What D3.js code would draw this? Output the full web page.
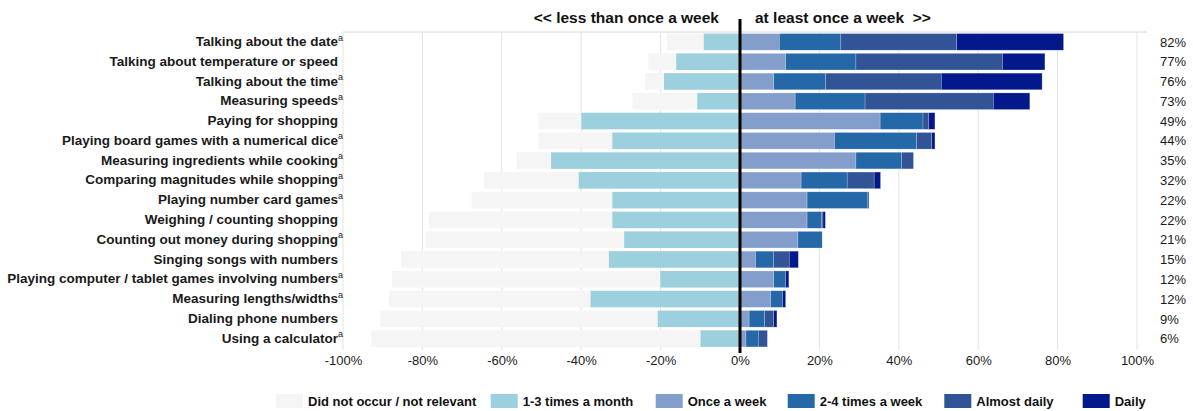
<!DOCTYPE html>
<html>
<head>
<meta charset="utf-8">
<title>Number activities at home</title>
<script src="https://d3js.org/d3.v7.min.js"></script>
<style>
  body { margin: 0; background: #fff; }
  svg { display: block; font-family: "Liberation Sans", Arial, Helvetica, sans-serif; }
  .label { font-size: 13.5px; font-weight: bold; fill: #1a1a1a; }
  .share { font-size: 13px; fill: #1a1a1a; }
  .tick text { font-size: 13px; fill: #1a1a1a; }
  .head { font-size: 15.5px; font-weight: bold; fill: #111; }
  .legend text { font-size: 13px; font-weight: bold; fill: #111; }
</style>
</head>
<body>
<svg width="1193" height="411"></svg>
<script>
// activities, top to bottom
const activities = [
  "Talking about the date", "Talking about temperature or speed", "Talking about the time",
  "Measuring speeds", "Paying for shopping", "Playing board games with a numerical dice",
  "Measuring ingredients while cooking", "Comparing magnitudes while shopping",
  "Playing number card games", "Weighing / counting shopping",
  "Counting out money during shopping", "Singing songs with numbers",
  "Playing computer / tablet games involving numbers", "Measuring lengths/widths",
  "Dialing phone numbers", "Using a calculator"
];
const footnote = [true, false, true, true, false, true, true, true, true, false, true, false, true, true, false, true];

// percentages of each frequency
const notRelevant = [9.2, 7.0, 4.7, 16.3, 10.8, 18.6, 8.6, 23.8, 35.4, 46.2, 50.0, 52.3, 67.6, 50.7, 69.8, 82.9];
const monthly     = [9.2, 16.1, 19.2, 10.8, 40.0, 32.2, 47.6, 40.7, 32.2, 32.2, 29.2, 33.1, 20.1, 37.7, 20.8, 10.0];
const weekly      = [9.9, 11.5, 8.5, 13.9, 35.3, 23.8, 29.2, 15.4, 16.9, 16.9, 14.6, 3.9, 8.5, 7.7, 2.3, 1.5];
const twoToFour   = [15.5, 17.7, 13.1, 17.6, 10.8, 20.7, 11.5, 11.6, 15.3, 3.7, 6.1, 4.6, 3.0, 3.0, 3.9, 3.1];
const almostDaily = [29.2, 36.9, 29.1, 32.3, 1.4, 3.8, 3.0, 6.8, 0.3, 0.3, 0, 3.9, 0, 0, 2.3, 2.3];
const daily       = [26.9, 10.7, 25.4, 9.2, 1.6, 0.8, 0, 1.6, 0, 0.6, 0, 2.3, 0.8, 0.8, 0.8, 0];
const shares = ["82%", "77%", "76%", "73%", "49%", "44%", "35%", "32%", "22%", "22%", "21%", "15%", "12%", "12%", "9%", "6%"];

const xTicks = [-100, -80, -60, -40, -20, 0, 20, 40, 60, 80, 100];
const legendNames = ["Did not occur / not relevant", "1-3 times a month", "Once a week", "2-4 times a week", "Almost daily", "Daily"];
const colors = ["#f5f5f5", "#9dd0de", "#849ecb", "#2468a7", "#315496", "#03198b"];

const svg = d3.select("svg");

const x = d3.scaleLinear().domain([-100, 100]).range([343, 1137]);
const y = d3.scaleBand().domain(activities).range([32, 348.5]).paddingInner(0.16).paddingOuter(0.08);

// grid
svg.append("line")
  .attr("x1", x(-100)).attr("x2", x(102.5))
  .attr("y1", 32).attr("y2", 32)
  .attr("stroke", "#d6d6d6");
svg.append("g").selectAll("line")
  .data(xTicks)
  .join("line")
  .attr("x1", d => x(d)).attr("x2", d => x(d))
  .attr("y1", 32).attr("y2", 350)
  .attr("stroke", "#e3e3e3");

// build segments
const rows = activities.map((a, i) => {
  const left = [[notRelevant[i], 0], [monthly[i], 1]];
  const right = [[weekly[i], 2], [twoToFour[i], 3], [almostDaily[i], 4], [daily[i], 5]];
  const segs = [];
  let pos = 0;
  left.slice().reverse().forEach(([v, k]) => { segs.push({a, k, x0: pos - v, x1: pos}); pos -= v; });
  pos = 0;
  right.forEach(([v, k]) => { segs.push({a, k, x0: pos, x1: pos + v}); pos += v; });
  return segs.filter(s => s.x1 - s.x0 > 0);
}).flat();

svg.append("g").selectAll("rect")
  .data(rows)
  .join("rect")
  .attr("x", d => x(d.x0))
  .attr("width", d => x(d.x1) - x(d.x0))
  .attr("y", d => y(d.a))
  .attr("height", y.bandwidth())
  .attr("fill", d => colors[d.k])
  .attr("stroke", d => d.k > 1 ? "rgba(255,255,255,0.35)" : "none")
  .attr("stroke-width", 0.6);

// zero line
svg.append("line")
  .attr("x1", x(0)).attr("x2", x(0))
  .attr("y1", 19).attr("y2", 353)
  .attr("stroke", "#000").attr("stroke-width", 3);

// axis
const axis = svg.append("g")
  .attr("transform", "translate(0,353)")
  .call(d3.axisBottom(x).tickValues(xTicks).tickSize(0).tickPadding(3).tickFormat(d => d + "%"));
axis.select(".domain").remove();
axis.selectAll("text").attr("font-family", null).attr("font-size", null);

// activity labels
const lab = svg.append("g").selectAll("text")
  .data(activities)
  .join("text")
  .attr("class", "label")
  .attr("x", 343)
  .attr("y", d => y(d) + y.bandwidth() / 2)
  .attr("dy", "0.3em")
  .attr("text-anchor", "end");
lab.append("tspan").text(d => d);
lab.append("tspan")
  .attr("font-size", "9px")
  .attr("font-weight", "normal")
  .attr("dy", "-0.6em")
  .attr("fill-opacity", (d, i) => footnote[i] ? 1 : 0)
  .text("a");

// right shares
svg.append("g").selectAll("text")
  .data(shares)
  .join("text")
  .attr("class", "share")
  .attr("x", 1160)
  .attr("y", (d, i) => y(activities[i]) + y.bandwidth() / 2)
  .attr("dy", "0.36em")
  .text(d => d);

// header
svg.append("text").attr("class", "head")
  .attr("x", 719).attr("y", 23).attr("text-anchor", "end")
  .text("<< less than once a week");
svg.append("text").attr("class", "head")
  .attr("x", 755).attr("y", 23)
  .attr("xml:space", "preserve")
  .text("at least once a week  >>");

// legend
const legendX = [276, 490.7, 655.7, 787.7, 944.3, 1082.7];
const lg = svg.append("g").attr("class", "legend")
  .selectAll("g")
  .data(legendNames)
  .join("g")
  .attr("transform", (d, i) => `translate(${legendX[i]},394)`);
lg.append("rect")
  .attr("width", 27).attr("height", 14)
  .attr("fill", (d, i) => colors[i]);
lg.append("text")
  .attr("x", 32).attr("y", 7).attr("dy", "0.36em")
  .text(d => d);
</script>
</body>
</html>
